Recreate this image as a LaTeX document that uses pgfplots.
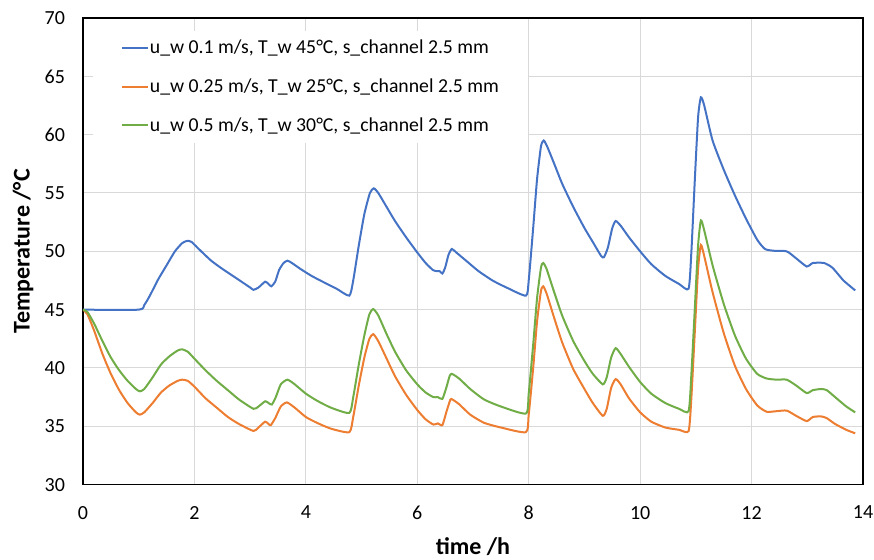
\documentclass[border=0pt]{standalone}
\usepackage{fontspec}
\setmainfont{Carlito}
\usepackage{pgfplots}
\pgfplotsset{compat=1.18}

\definecolor{cblue}{HTML}{4472C4}
\definecolor{corange}{HTML}{ED7D31}
\definecolor{cgreen}{HTML}{70AD47}
\definecolor{cgrid}{HTML}{D9D9D9}

\begin{document}
\begin{tikzpicture}
\useasboundingbox (-62.25pt,-56.25pt) rectangle (593.25pt,363.5pt);
\begin{axis}[
  scale only axis,
  width=585pt, height=350pt,
  xmin=0, xmax=14, ymin=30, ymax=70,
  xtick={0,2,...,14}, ytick={30,35,...,70},
  grid=major,
  major grid style={cgrid, line width=0.75pt},
  axis line style={black, line width=0.8pt},
  major tick length=0pt,
  tick style={draw=none},
  /pgf/number format/assume math mode=true,
  ticklabel style={font=\fontsize{15}{17}\selectfont},
  xticklabel style={yshift=-12.5pt},
  yticklabel style={xshift=-10pt},
  xlabel={\textbf{time /h}},
  ylabel={\textbf{Temperature /°C}},
  label style={font=\fontsize{18}{20}\selectfont},
  xlabel style={at={(axis description cs:0.5,0)}, anchor=center, yshift=-46.5pt},
  ylabel style={at={([xshift=-45pt]axis description cs:0,0.5)}, anchor=center},
  legend cell align=left,
  legend style={
    at={(0.0128,1)}, anchor=north west, yshift=-9.5pt,
    draw=none, fill=white,
    inner xsep=21pt, inner ysep=6pt,
    font=\fontsize{14.8}{17}\selectfont,
    row sep=15.2pt,
    nodes={inner sep=1pt},
  },
  legend image code/.code={\draw[#1] plot coordinates {(0pt,0pt) (9.5pt,0pt) (19pt,0pt)};},
  every axis plot/.append style={line width=1.5pt, smooth, tension=0.35},
]

\addplot[cblue] coordinates {
(0,45) (1.0,45) (1.1,45.4) (1.2,46.2) (1.35,47.6) (1.5,48.8) (1.65,50.0) (1.78,50.7) (1.87,50.9)
(1.95,50.8) (2.1,50.1) (2.3,49.2) (2.5,48.5) (2.75,47.7) (3.0,46.9) (3.06,46.7) (3.15,46.9)
(3.27,47.4) (3.33,47.2) (3.38,47.0) (3.45,47.4) (3.52,48.4) (3.6,49.0) (3.67,49.2) (3.75,49.0)
(3.9,48.5) (4.1,47.9) (4.3,47.4) (4.55,46.8) (4.78,46.2) (4.85,47.5) (4.95,50.5) (5.05,53.2)
(5.15,55.0) (5.22,55.4) (5.3,55.0) (5.45,53.8) (5.6,52.6) (5.8,51.2) (6.0,49.9) (6.15,49.0)
(6.28,48.4) (6.35,48.3) (6.4,48.3) (6.45,48.1) (6.5,48.6) (6.56,49.7) (6.62,50.2) (6.7,49.9)
(6.9,49.1) (7.1,48.3) (7.35,47.5) (7.6,46.9) (7.95,46.2) (8.0,47.5) (8.08,52.0) (8.15,56.2)
(8.22,59.0) (8.27,59.5) (8.33,59.0) (8.45,57.6) (8.6,55.8) (8.8,53.8) (9.0,52.0) (9.15,50.8)
(9.3,49.6) (9.35,49.5) (9.42,50.3) (9.5,52.0) (9.56,52.6) (9.65,52.2) (9.8,51.2) (10.0,50.0)
(10.2,48.9) (10.45,47.9) (10.7,47.2) (10.87,46.8) (10.92,50.0) (10.98,56.0) (11.04,61.5)
(11.09,63.2) (11.15,62.5) (11.3,59.5) (11.5,57.0) (11.7,54.8) (11.9,52.8) (12.1,51.0)
(12.24,50.2) (12.4,50.05) (12.63,50.0) (12.8,49.4) (12.99,48.7) (13.1,49.0) (13.3,49.0)
(13.45,48.6) (13.65,47.5) (13.86,46.65)
};
\addlegendentry{u\_w 0.1 m/s, T\_w 45°C, s\_channel 2.5 mm}

\addplot[corange] coordinates {
(0,45) (0.08,44.6) (0.2,43.2) (0.35,41.2) (0.5,39.5) (0.65,38.1) (0.8,37.0) (0.95,36.2) (1.02,36.0)
(1.1,36.2) (1.25,37.0) (1.4,37.9) (1.55,38.5) (1.7,38.9) (1.78,39.0) (1.88,38.9) (2.0,38.4)
(2.2,37.4) (2.4,36.6) (2.6,35.8) (2.8,35.2) (3.06,34.6) (3.15,34.9) (3.27,35.4) (3.33,35.2)
(3.37,35.1) (3.45,35.7) (3.55,36.7) (3.66,37.05) (3.8,36.6) (4.0,35.8) (4.2,35.3) (4.45,34.8)
(4.78,34.5) (4.85,35.8) (4.95,38.5) (5.05,40.9) (5.14,42.5) (5.21,42.9) (5.3,42.3) (5.45,40.8)
(5.6,39.3) (5.8,37.7) (6.0,36.4) (6.15,35.6) (6.29,35.15) (6.37,35.25) (6.45,35.1) (6.52,36.2)
(6.58,37.1) (6.61,37.35) (6.75,36.9) (6.95,36.0) (7.2,35.3) (7.5,34.9) (7.95,34.5) (8.0,36.0)
(8.08,40.0) (8.15,44.0) (8.22,46.6) (8.26,47.0) (8.32,46.4) (8.45,44.4) (8.6,42.2) (8.8,39.9)
(9.0,38.2) (9.15,37.0) (9.33,35.9) (9.4,36.5) (9.48,38.3) (9.56,39.05) (9.65,38.6) (9.8,37.4)
(10.0,36.2) (10.2,35.4) (10.45,34.9) (10.7,34.7) (10.87,34.6) (10.92,37.5) (10.98,43.0)
(11.04,48.5) (11.09,50.55) (11.15,49.6) (11.3,46.5) (11.5,43.0) (11.7,40.2) (11.9,38.2)
(12.1,36.8) (12.27,36.25) (12.45,36.3) (12.63,36.35) (12.8,35.9) (12.99,35.45) (13.1,35.8)
(13.25,35.85) (13.35,35.7) (13.5,35.2) (13.7,34.7) (13.86,34.4)
};
\addlegendentry{u\_w 0.25 m/s, T\_w 25°C, s\_channel 2.5 mm}

\addplot[cgreen] coordinates {
(0,45) (0.08,44.8) (0.2,43.8) (0.35,42.3) (0.5,40.9) (0.65,39.8) (0.8,38.9) (0.95,38.2) (1.02,38.0)
(1.1,38.2) (1.25,39.2) (1.4,40.3) (1.55,41.0) (1.7,41.5) (1.78,41.6) (1.88,41.4) (2.0,40.8)
(2.2,39.8) (2.4,38.9) (2.6,38.1) (2.8,37.3) (3.06,36.5) (3.15,36.7) (3.27,37.15) (3.33,37.0)
(3.39,36.87) (3.46,37.5) (3.55,38.6) (3.67,39.0) (3.8,38.6) (4.0,37.8) (4.2,37.2) (4.45,36.6)
(4.78,36.15) (4.85,37.5) (4.95,40.3) (5.05,42.8) (5.14,44.6) (5.21,45.05) (5.3,44.5) (5.45,42.9)
(5.6,41.4) (5.8,39.8) (6.0,38.6) (6.15,37.9) (6.29,37.5) (6.37,37.5) (6.45,37.35) (6.52,38.3)
(6.58,39.3) (6.62,39.5) (6.75,39.1) (6.95,38.2) (7.2,37.3) (7.5,36.7) (7.95,36.1) (8.0,37.8)
(8.08,42.0) (8.15,46.0) (8.22,48.6) (8.26,49.0) (8.32,48.5) (8.45,46.6) (8.6,44.5) (8.8,42.3)
(9.0,40.6) (9.15,39.5) (9.33,38.6) (9.4,39.2) (9.48,40.9) (9.56,41.7) (9.65,41.2) (9.8,40.1)
(10.0,38.8) (10.2,37.8) (10.45,37.0) (10.7,36.5) (10.87,36.3) (10.92,39.5) (10.98,45.0)
(11.04,50.5) (11.09,52.65) (11.15,51.8) (11.3,48.8) (11.5,45.5) (11.7,42.8) (11.9,40.8)
(12.1,39.5) (12.27,39.1) (12.45,39.0) (12.63,39.0) (12.8,38.5) (12.99,37.85) (13.1,38.1)
(13.25,38.2) (13.35,38.1) (13.5,37.5) (13.7,36.7) (13.86,36.2)
};
\addlegendentry{u\_w 0.5 m/s, T\_w 30°C, s\_channel 2.5 mm}

\end{axis}
\end{tikzpicture}
\end{document}
